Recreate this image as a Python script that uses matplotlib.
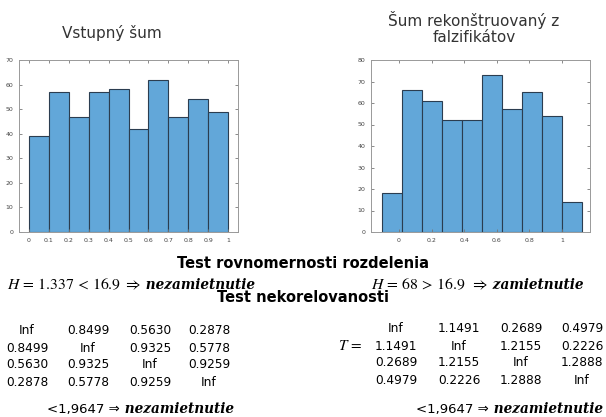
import matplotlib
matplotlib.use("Agg")
import matplotlib.pyplot as plt
import numpy as np

# histogram data
left_edges = [0.0, 0.1, 0.2, 0.3, 0.4, 0.5, 0.6, 0.7, 0.8, 0.9, 1.0]
left_counts = [39, 57, 47, 57, 58, 42, 62, 47, 54, 49]
right_edges = [-0.105, 0.018, 0.140, 0.263, 0.386, 0.509, 0.631, 0.754, 0.877, 0.999, 1.122]
right_counts = [18, 66, 61, 52, 52, 73, 57, 65, 54, 14]

left_title = "Vstupný šum"
right_title = "Šum rekonštruovaný z\nfalzifikátov"

# correlation test matrices
left_matrix = [["Inf", "0.8499", "0.5630", "0.2878"],
               ["0.8499", "Inf", "0.9325", "0.5778"],
               ["0.5630", "0.9325", "Inf", "0.9259"],
               ["0.2878", "0.5778", "0.9259", "Inf"]]
right_matrix = [["Inf", "1.1491", "0.2689", "0.4979"],
                ["1.1491", "Inf", "1.2155", "0.2226"],
                ["0.2689", "1.2155", "Inf", "1.2888"],
                ["0.4979", "0.2226", "1.2888", "Inf"]]

W, H = 606, 417
fig = plt.figure(figsize=(W / 100, H / 100), dpi=100)
plt.rcParams['mathtext.fontset'] = 'stix'

bar_face = "#62a7d9"
bar_edge = "#2b3d50"
sans = "DejaVu Sans"
serif_bi = dict(family="DejaVu Serif", weight="bold", style="italic")


def hist_axes(rect, edges, counts, xlim, ylim, xticks, yticks):
    ax = fig.add_axes(rect)
    ax.hist(edges[:-1], bins=edges, weights=counts, color=bar_face,
            edgecolor=bar_edge, linewidth=0.8)
    ax.set_xlim(*xlim)
    ax.set_ylim(*ylim)
    ax.set_xticks(xticks)
    ax.set_yticks(yticks)
    ax.set_xticklabels(["%g" % t for t in xticks])
    ax.set_yticklabels(["%g" % t for t in yticks])
    ax.tick_params(direction="in", length=2.5, width=0.6, labelsize=4.5,
                   colors="#777777", labelcolor="#444444", top=True, right=True, pad=4)
    for s in ax.spines.values():
        s.set_color("#999999")
        s.set_linewidth(0.7)
    return ax


def frac(x0, y0, x1, y1):
    return [x0 / W, 1 - y1 / H, (x1 - x0) / W, (y1 - y0) / H]


hist_axes(frac(19, 60, 238, 232), left_edges, left_counts, (-0.05, 1.05), (0, 70),
          left_edges, list(range(0, 71, 10)))
hist_axes(frac(371, 60, 590, 232), right_edges, right_counts, (-0.172, 1.172), (0, 80),
          [0, 0.2, 0.4, 0.6, 0.8, 1], list(range(0, 81, 10)))

# overlay for slide text, in pixel coordinates
bg = fig.add_axes([0, 0, 1, 1])
bg.set_xlim(0, W)
bg.set_ylim(H, 0)
bg.axis("off")
bg.patch.set_alpha(0)

bg.text(112, 33, left_title, ha="center", va="center", fontsize=11, family=sans, color="#333333")
bg.text(474, 28, right_title, ha="center", va="center", fontsize=11, family=sans,
        color="#333333", linespacing=1.15)

bg.text(303, 263, "Test rovnomernosti rozdelenia", ha="center", va="center",
        fontsize=10.5, weight="bold", family=sans)
bg.text(303, 298, "Test nekorelovanosti", ha="center", va="center",
        fontsize=10.5, weight="bold", family=sans)


def formula(x, y, head, word, size=11.3):
    t = bg.text(x, y, head, ha="left", va="baseline", fontsize=size)
    bg.annotate(" " + word, xy=(1, 0), xycoords=t, va="bottom", ha="left",
                fontsize=9.8, **serif_bi)


formula(7, 289, r"$H\,=\,1.337\,<\,16.9\;\Rightarrow$", "nezamietnutie")
formula(371, 289, r"$H\,=\,68\,>\,16.9\;\;\Rightarrow$", "zamietnutie")


def matrix(cols, rows, cells):
    for r, y in enumerate(rows):
        for c, x in enumerate(cols):
            bg.text(x, y, cells[r][c], ha="center", va="center", fontsize=8.7,
                    family=sans)


matrix([27, 88, 150, 209], [331, 348, 365, 382], left_matrix)
matrix([396, 459, 521, 582], [329, 346, 363, 380], right_matrix)
bg.text(362, 346, r"$T\,=$", ha="right", va="center", fontsize=11)


def conclusion(x, y):
    t = bg.text(x, y, "<1,9647 ⇒", ha="left", va="baseline", fontsize=9.5, family=sans)
    bg.annotate(" nezamietnutie", xy=(1, 0), xycoords=t, va="bottom", ha="left",
                fontsize=9.8, **serif_bi)


conclusion(47, 413)
conclusion(416, 413)

fig.savefig("out.png", dpi=100)
